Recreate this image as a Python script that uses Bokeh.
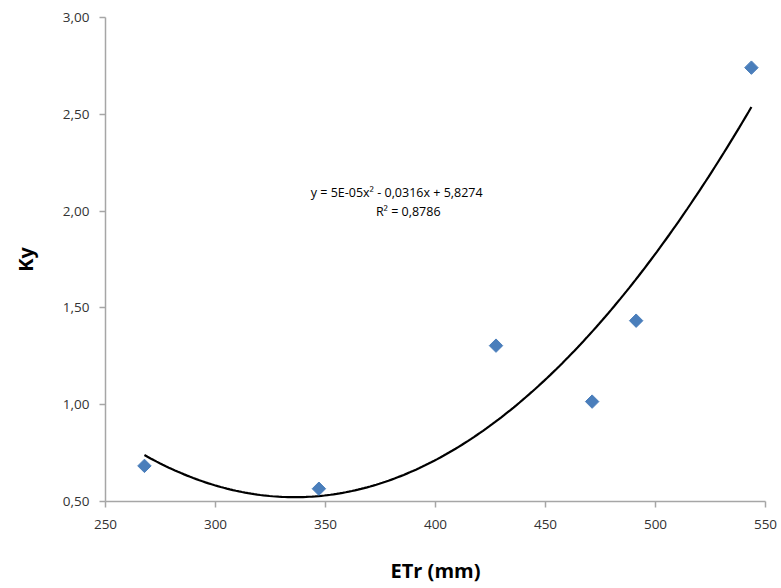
import numpy as np
from bokeh.plotting import figure
from bokeh.models import Range1d, FixedTicker, CustomJSTickFormatter, Label
from bokeh.embed import file_html
from bokeh.resources import INLINE

# Observed reference evapotranspiration (mm) and yield response factor
etr = [267.7, 347.0, 427.5, 471.2, 491.2, 543.6]
ky = [0.684, 0.566, 1.305, 1.016, 1.434, 2.741]

x_ticks = [250, 300, 350, 400, 450, 500, 550]
y_ticks = [0.5, 1.0, 1.5, 2.0, 2.5, 3.0]

equation = "y = 5E-05x² - 0,0316x + 5,8274"
r_squared = "R² = 0,8786"

FONT = "Open Sans"
GREY = "#a6a6a6"

p = figure(width=781, height=588, output_backend="svg", toolbar_location=None,
           x_range=Range1d(250, 550), y_range=Range1d(0.5, 3.0),
           min_border_left=105, min_border_right=16, min_border_top=17,
           min_border_bottom=87)
p.outline_line_color = None
p.xgrid.visible = False
p.ygrid.visible = False

# second-order polynomial trend line over the observed range
coef = np.polyfit(etr, ky, 2)
xs = np.linspace(min(etr), max(etr), 200)
p.line(xs, np.polyval(coef, xs), line_color="black", line_width=2.2)

# diamonds drawn as squares turned by 45 degrees
p.scatter(etr, ky, marker="square", size=9.5, angle=np.pi / 4,
          fill_color="#4a7ebb", line_color="#4a7ebb")

for ax in (p.xaxis[0], p.yaxis[0]):
    ax.axis_line_color = GREY
    ax.axis_line_width = 1.5
    ax.major_tick_line_color = GREY
    ax.major_tick_line_width = 1.5
    ax.major_tick_out = 6
    ax.major_tick_in = 0
    ax.minor_tick_line_color = None
    ax.major_label_text_font = FONT
    ax.major_label_text_font_size = "13.5px"
    ax.major_label_text_color = "#333333"
    ax.axis_label_text_font = FONT
    ax.axis_label_text_font_style = "bold"
    ax.axis_label_text_font_size = "20px"
    ax.axis_label_text_color = "black"

p.xaxis.ticker = FixedTicker(ticks=x_ticks)
p.yaxis.ticker = FixedTicker(ticks=y_ticks)
p.yaxis.formatter = CustomJSTickFormatter(code="return tick.toFixed(2).replace('.', ',');")
p.xaxis.major_label_standoff = 12
p.yaxis.major_label_standoff = 10
p.xaxis.axis_label = "ETr (mm)"
p.yaxis.axis_label = "Ky"
p.xaxis.axis_label_standoff = 25
p.yaxis.axis_label_standoff = 21

p.add_layout(Label(x=343.3, y=2.095, text=equation, text_align="left",
                   text_baseline="middle", text_font=FONT,
                   text_font_size="12.5px", text_color="black"))
p.add_layout(Label(x=372.9, y=1.997, text=r_squared, text_align="left",
                   text_baseline="middle", text_font=FONT,
                   text_font_size="12.5px", text_color="black"))

open("out.html", "w").write(file_html(p, INLINE))
